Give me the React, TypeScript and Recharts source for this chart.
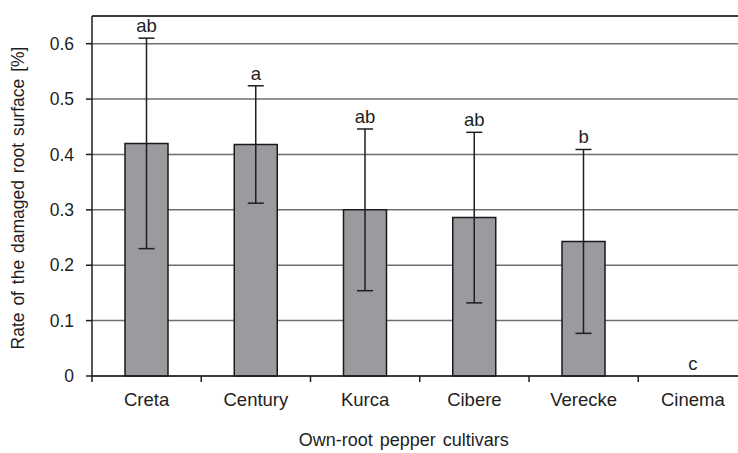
import {
  Bar,
  ComposedChart,
  CartesianGrid,
  ErrorBar,
  LabelList,
  Line,
  ReferenceLine,
  XAxis,
  YAxis,
} from 'recharts'

const cultivars = ['Creta', 'Century', 'Kurca', 'Cibere', 'Verecke', 'Cinema']
const damaged = [0.42, 0.418, 0.3, 0.286, 0.243, 0]
const sd = [0.19, 0.106, 0.146, 0.154, 0.166, 0]
const letters = ['ab', 'a', 'ab', 'ab', 'b', 'c']
const yTicks = [0, 0.1, 0.2, 0.3, 0.4, 0.5, 0.6]
const Y_MAX = 0.65

const data = cultivars.map((name, i) => ({
  name,
  value: damaged[i],
  err: sd[i],
  errTop: damaged[i] + sd[i],
  letter: letters[i],
}))

const W = 760
const H = 453
const TOP = 16
const LEFT = 92
const RIGHT = 12.5
const X_AXIS_H = 77
const PLOT_H = H - TOP - X_AXIS_H
const PLOT_W = W - LEFT - RIGHT
const AXIS_Y = TOP + PLOT_H
const BAND = PLOT_W / cultivars.length
const FONT = '"Liberation Sans", Arial, sans-serif'
const INK = '#1e1e1e'

function CategoryTick(props: any) {
  const { x, payload } = props
  const left = x - BAND / 2
  return (
    <g>
      <line x1={left} x2={left} y1={AXIS_Y} y2={AXIS_Y + 6} stroke={INK} strokeWidth={1.5} />
      <text x={x} y={AXIS_Y + 30} textAnchor="middle" fontSize={18.5} fill={INK} fontFamily={FONT}>
        {payload.value}
      </text>
    </g>
  )
}

function LetterLabel(props: any) {
  const { x, y, index } = props
  return (
    <text x={x} y={y - 6} textAnchor="middle" fontSize={18.5} fill={INK} fontFamily={FONT}>
      {letters[index]}
    </text>
  )
}

export default function App() {
  return (
    <div
      style={{
        position: 'absolute',
        top: 0,
        left: 0,
        width: 738,
        height: 453,
        overflow: 'hidden',
        background: '#fff',
      }}
    >
      <ComposedChart
        width={W}
        height={H}
        data={data}
        margin={{ top: TOP, right: RIGHT, bottom: 0, left: 0 }}
      >
        <CartesianGrid vertical={false} stroke="#6e6e6e" strokeWidth={1.5} />
        <XAxis
          dataKey="name"
          height={X_AXIS_H}
          tick={<CategoryTick />}
          tickLine={false}
          axisLine={{ stroke: INK, strokeWidth: 1.5 }}
          interval={0}
          label={{
            value: 'Own-root pepper  cultivars',
            position: 'insideBottom',
            offset: 7,
            dx: -16,
            style: { fontSize: 18, fill: INK, fontFamily: FONT, wordSpacing: 2 },
          }}
        />
        <YAxis
          width={LEFT}
          domain={[0, Y_MAX]}
          ticks={yTicks}
          tickFormatter={(v: number) => String(v)}
          tickSize={6}
          tickMargin={12}
          tickLine={{ stroke: INK, strokeWidth: 1.5 }}
          axisLine={{ stroke: INK, strokeWidth: 1.5 }}
          tick={{ fontSize: 17.5, fill: INK, fontFamily: FONT }}
          label={{
            value: 'Rate of the damaged root surface [%]',
            angle: -90,
            position: 'insideLeft',
            offset: 18,
            dy: 2,
            style: { textAnchor: 'middle', fontSize: 17.5, fill: INK, fontFamily: FONT, wordSpacing: 2 },
          }}
        />
        <ReferenceLine y={Y_MAX} stroke={INK} strokeWidth={1.5} />
        <Bar
          dataKey="value"
          fill="#9b9a9f"
          stroke="#1a1a1a"
          strokeWidth={1.5}
          barSize={43}
          isAnimationActive={false}
        >
          <ErrorBar dataKey="err" width={8} stroke={INK} strokeWidth={1.5} />
        </Bar>
        <Line
          dataKey="errTop"
          stroke="none"
          dot={false}
          activeDot={false}
          legendType="none"
          isAnimationActive={false}
        >
          <LabelList dataKey="letter" content={<LetterLabel />} />
        </Line>
      </ComposedChart>
    </div>
  )
}
